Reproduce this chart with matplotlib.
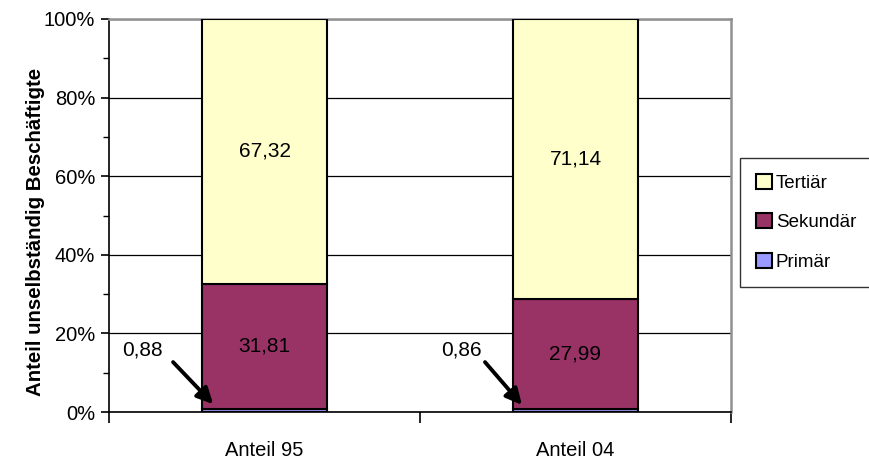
import matplotlib
matplotlib.use("Agg")
import matplotlib.pyplot as plt
from matplotlib.ticker import MultipleLocator, FuncFormatter

plt.rcParams['font.family'] = ['Liberation Sans', 'DejaVu Sans']

categories = ["Anteil 95", "Anteil 04"]
primaer = [0.88, 0.86]
sekundaer = [31.81, 27.99]
tertiaer = [67.32, 71.14]
series_names = ["Primär", "Sekundär", "Tertiär"]
colors = ["#9999FF", "#993366", "#FFFFCC"]


def fmt(v):
    return f"{v:.2f}".replace(".", ",")


fig = plt.figure(figsize=(8.69, 4.59), dpi=100)
ax = fig.add_axes([109 / 869, 1 - 412 / 459, (731 - 109) / 869, (412 - 19) / 459])

x = list(range(len(categories)))
width = 0.4
bars_p = ax.bar(x, primaer, width, color=colors[0], edgecolor="black", linewidth=1.5,
                label=series_names[0], zorder=3)
bottom_s = primaer
bars_s = ax.bar(x, sekundaer, width, bottom=bottom_s, color=colors[1], edgecolor="black",
                linewidth=1.5, label=series_names[1], zorder=3)
bottom_t = [p + s for p, s in zip(primaer, sekundaer)]
bars_t = ax.bar(x, tertiaer, width, bottom=bottom_t, color=colors[2], edgecolor="black",
                linewidth=1.5, label=series_names[2], zorder=3)

# value labels inside the larger segments
for i in x:
    ax.text(i, bottom_s[i] + sekundaer[i] / 2, fmt(sekundaer[i]), ha="center", va="center",
            fontsize=15, zorder=4)
    ax.text(i, bottom_t[i] + tertiaer[i] / 2, fmt(tertiaer[i]), ha="center", va="center",
            fontsize=15, zorder=4)

# arrows pointing at the thin primary segments
arrow_tips = [(-0.165, 2.0), (0.828, 1.8)]
arrow_tails = [(-0.294, 12.7), (0.709, 12.7)]
label_pos = [(-0.394, 15.8), (0.632, 15.8)]
for i in x:
    ax.annotate("", xy=arrow_tips[i], xytext=arrow_tails[i],
                arrowprops=dict(arrowstyle="-|>", lw=2.8, color="black", mutation_scale=24,
                                shrinkA=0, shrinkB=0), zorder=5)
    ax.text(*label_pos[i], fmt(primaer[i]), ha="center", va="center", fontsize=15, zorder=5)

ax.set_xlim(-0.5, 1.5)
ax.set_ylim(0, 100)
ax.set_xticks([-0.5, 0.5, 1.5], minor=False)
ax.set_xticklabels([])
ax.set_xticks(x, minor=True)
ax.set_xticklabels(categories, minor=True, fontsize=14.5)
ax.tick_params(axis="x", which="minor", length=0, pad=21)
ax.tick_params(axis="x", which="major", length=8, width=1.2, direction="out")

ax.yaxis.set_major_locator(MultipleLocator(20))
ax.yaxis.set_minor_locator(MultipleLocator(10))
ax.yaxis.set_major_formatter(FuncFormatter(lambda v, p: f"{int(round(v))}%"))
ax.tick_params(axis="y", which="major", length=6, width=1.2, labelsize=14.5, pad=4)
ax.tick_params(axis="y", which="minor", length=4, width=1.0)

ax.grid(axis="y", which="major", color="black", linewidth=0.9, zorder=0)
ax.set_axisbelow(True)
for side in ("top", "right"):
    ax.spines[side].set_color("#909090")
    ax.spines[side].set_linewidth(1.8)
for side in ("left", "bottom"):
    ax.spines[side].set_color("black")
    ax.spines[side].set_linewidth(1.2)

fig.text(36 / 869, 1 - 232 / 459, "Anteil unselbständig Beschäftigte", rotation=90,
         ha="center", va="center", fontsize=14.7, fontweight="bold")

handles = [bars_t, bars_s, bars_p]
labels = [series_names[2], series_names[1], series_names[0]]
leg = fig.legend(handles, labels, loc="upper left",
                 bbox_to_anchor=(740 / 869, 1 - 158 / 459), borderaxespad=0,
                 fontsize=13.5, frameon=True, fancybox=False, shadow=False,
                 handlelength=0.85, handleheight=0.85, handletextpad=0.2,
                 labelspacing=1.15, borderpad=0.85)
leg.get_frame().set_edgecolor("black")
leg.get_frame().set_linewidth(1.0)
for h in leg.legend_handles:
    h.set_linewidth(1.5)

fig.savefig("out.png", dpi=100)
